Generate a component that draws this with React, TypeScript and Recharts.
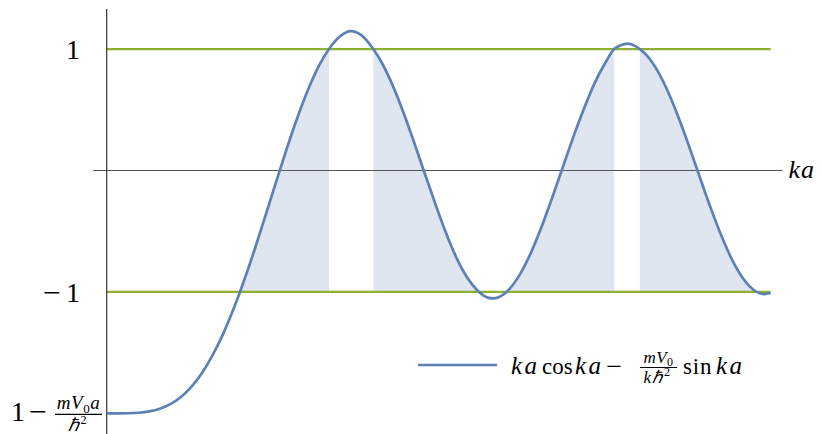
import {
  ComposedChart,
  Line,
  Area,
  XAxis,
  YAxis,
  ReferenceLine,
} from "recharts";

// sampled curve: ka on the x axis, ka·cos ka − (mV0/kħ²)·sin ka on y
const kaValues = [
  0, 0.25, 0.5, 0.75, 1.0, 1.25, 1.5, 1.75, 2.0, 2.25, 2.5, 2.75, 3.0, 3.1416,
  3.25, 3.5, 3.75, 4.0, 4.25, 4.5, 4.75, 5.0, 5.24, 5.5, 5.75, 6.0, 6.2832, 6.5,
  6.75, 7.0, 7.25, 7.5, 7.75, 8.0, 8.25, 8.5, 8.75, 9.0, 9.1, 9.25, 9.4248,
  9.5, 9.75, 10.0, 10.25, 10.5, 10.75, 11.0, 11.25, 11.5, 11.75, 11.96, 12.1,
  12.28, 12.45, 12.5664, 12.75, 13.0, 13.25, 13.5, 13.75, 14.0, 14.25, 14.5,
  14.75, 15.0, 15.25, 15.5, 15.65,
];
const curveValues = [
  -2.0, -2.0, -1.999, -1.995, -1.984, -1.962, -1.924, -1.865, -1.78, -1.666,
  -1.519, -1.341, -1.131, -1.0, -0.894, -0.636, -0.363, -0.086, 0.186, 0.441,
  0.669, 0.862, 1.0, 1.105, 1.148, 1.115, 1.0, 0.877, 0.693, 0.472, 0.227,
  -0.029, -0.279, -0.517, -0.724, -0.884, -0.993, -1.049, -1.053, -1.041,
  -1.0, -0.973, -0.849, -0.676, -0.463, -0.224, 0.028, 0.277, 0.51, 0.72,
  0.885, 1.0, 1.03, 1.045, 1.026, 1.0, 0.94, 0.81, 0.632, 0.416, 0.176, -0.076,
  -0.322, -0.548, -0.742, -0.89, -0.984, -1.018, -1.009,
];

// allowed bands (|f| <= 1), shaded down to -1
const bandStarts = [3.1416, 6.2832, 12.5664];
const bandEnds = [5.24, 11.96, 15.65];

const yTicks = [1, -1, -2];

const BLUE = "#5E81B5";
const GREEN = "#8FB032";
const SERIF = '"Liberation Serif", "Times New Roman", serif';
const HBAR = "ℏ";

const rows = kaValues.map((ka, i) => {
  const f = curveValues[i];
  const inBand = bandStarts.some(
    (s, j) => ka >= s - 1e-6 && ka <= bandEnds[j] + 1e-6
  );
  return { ka, f, shade: inBand ? Math.max(f, -1) : null };
});

const YTick = (props: any) => {
  const { y, payload } = props;
  if (payload.value === -2) {
    return (
      <g fontFamily={SERIF} fill="#000">
        <text x={11} y={y + 8} fontSize={28}>
          1
        </text>
        <text x={29} y={y + 8} fontSize={28} textLength={18} lengthAdjust="spacingAndGlyphs">
          −
        </text>
        <text x={78.5} y={y - 4} fontSize={19} textAnchor="middle" letterSpacing={0.6}>
          <tspan fontStyle="italic">mV</tspan>
          <tspan fontSize={13} dy={4}>0</tspan>
          <tspan fontStyle="italic" dy={-4}>a</tspan>
        </text>
        <line x1={55} x2={102} y1={y + 1} y2={y + 1} stroke="#000" strokeWidth={1.2} />
        <text x={77} y={y + 18} fontSize={18} textAnchor="middle">
          <tspan fontStyle="italic">{HBAR}</tspan>
          <tspan fontSize={12} dx={2} dy={-7}>2</tspan>
        </text>
      </g>
    );
  }
  return (
    <g fontFamily={SERIF} fill="#000" fontSize={28}>
      {payload.value === -1 && (
        <text x={43} y={y + 10} textLength={18} lengthAdjust="spacingAndGlyphs">
          −
        </text>
      )}
      <text x={80} y={y + 10} textAnchor="end">
        1
      </text>
    </g>
  );
};

const AxisName = (props: any) => {
  const vb = props.viewBox;
  if (!vb) return null;
  return (
    <text
      x={vb.x + vb.width + 6}
      y={vb.y + 7}
      fontFamily={SERIF}
      fontStyle="italic"
      fontSize={26}
      letterSpacing={1}
      fill="#000"
    >
      ka
    </text>
  );
};

// italic "ka" in the legend
const Ka = ({ x }: { x: number }) => (
  <text
    x={x}
    y={373.5}
    fontSize={25}
    fontStyle="italic"
    textLength={26}
    lengthAdjust="spacing"
  >
    ka
  </text>
);

// legend: sample stroke plus the formula, set word by word
const Legend = () => (
  <svg
    width={822}
    height={434}
    style={{ position: "absolute", left: 0, top: 0, pointerEvents: "none" }}
    fontFamily={SERIF}
    fill="#000"
  >
    <line x1={418} x2={497} y1={365} y2={365} stroke={BLUE} strokeWidth={2.7} />
    <g fontSize={23}>
      <Ka x={511} />
      <text x={542} y={373.5}>cos</text>
      <Ka x={575} />
      <text x={606} y={373.5} textLength={16} lengthAdjust="spacingAndGlyphs">−</text>
      <text x={683} y={373.5} letterSpacing={0.8}>sin</text>
      <Ka x={716} />
    </g>
    <g fontSize={17}>
      <text x={658.5} y={363} textAnchor="middle" letterSpacing={0.5}>
        <tspan fontStyle="italic">mV</tspan>
        <tspan fontSize={12} dy={3}>0</tspan>
      </text>
      <line x1={640} x2={677} y1={367.5} y2={367.5} stroke="#000" strokeWidth={1.1} />
      <text x={657} y={383.3} textAnchor="middle" letterSpacing={0.5}>
        <tspan fontStyle="italic">k</tspan>
        <tspan fontStyle="italic">{HBAR}</tspan>
        <tspan fontSize={12} dx={2} dy={-7}>2</tspan>
      </text>
    </g>
  </svg>
);

export default function App() {
  return (
    <div style={{ position: "absolute", left: 0, top: 0, width: 822, height: 434, background: "#fff" }}>
      <ComposedChart
        width={822}
        height={434}
        data={rows}
        margin={{ top: 9, right: 51.3, left: 0, bottom: 0 }}
      >
        <XAxis dataKey="ka" type="number" domain={[0, 15.65]} hide />
        <YAxis
          type="number"
          domain={[-2.17, 1.33]}
          ticks={yTicks}
          width={106.7}
          axisLine={false}
          tickLine={false}
          tick={<YTick />}
          interval={0}
        />
        <Area
          dataKey="shade"
          type="monotone"
          baseValue={-1}
          stroke="none"
          fill={BLUE}
          fillOpacity={0.2}
          connectNulls={false}
          isAnimationActive={false}
        />
        <ReferenceLine y={1} stroke={GREEN} strokeWidth={2.2} />
        <ReferenceLine y={-1} stroke={GREEN} strokeWidth={2.2} />
        <ReferenceLine
          segment={[
            { x: -0.32, y: 0 },
            { x: 15.93, y: 0 },
          ]}
          ifOverflow="visible"
          stroke="#555"
          strokeWidth={1.2}
          label={<AxisName />}
        />
        <ReferenceLine
          segment={[
            { x: 0, y: 1.33 },
            { x: 0, y: -2.17 },
          ]}
          ifOverflow="visible"
          stroke="#333"
          strokeWidth={1.2}
        />
        <Line
          dataKey="f"
          type="monotone"
          stroke={BLUE}
          strokeWidth={2.7}
          dot={false}
          isAnimationActive={false}
        />
      </ComposedChart>
      <Legend />
    </div>
  );
}
